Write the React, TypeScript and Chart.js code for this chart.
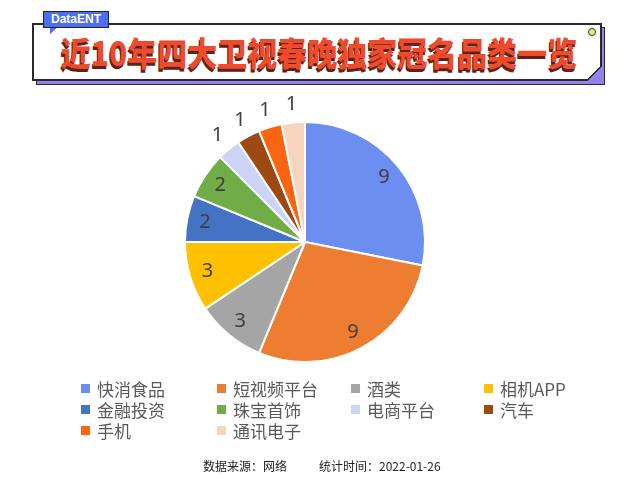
import React, { useEffect, useRef } from "react";
import { Chart, registerables } from "chart.js";

Chart.register(...registerables);

const titleText = "近10年四大卫视春晚独家冠名品类一览";
const categories = ["快消食品", "短视频平台", "酒类", "相机APP", "金融投资", "珠宝首饰", "电商平台", "汽车", "手机", "通讯电子"];
const values = [9, 9, 3, 3, 2, 2, 1, 1, 1, 1];
const colors = ["#6b8ef0", "#ed7d31", "#a5a5a5", "#ffc000", "#4472c4", "#70ad47", "#cbd4f4", "#9c4a12", "#fb6512", "#f6d4bd"];
const sourceText = "数据来源：网络";
const dateText = "统计时间：2022-01-26";

const legendCols = [81, 217, 351, 484];
const legendRows = [388, 409, 430];

const labelPlugin = {
  id: "sliceLabels",
  afterDatasetsDraw(chart: any) {
    const ctx = chart.ctx;
    const meta = chart.getDatasetMeta(0);
    ctx.save();
    ctx.font = "20px 'Noto Sans', 'DejaVu Sans', sans-serif";
    ctx.fillStyle = "#404040";
    ctx.textAlign = "center";
    ctx.textBaseline = "middle";
    meta.data.forEach((arc: any, i: number) => {
      const v = chart.data.datasets[0].data[i];
      const mid = (arc.startAngle + arc.endAngle) / 2;
      const r = arc.outerRadius * (v <= 1 ? 1.15 : 0.85);
      ctx.fillText(String(v), arc.x + Math.cos(mid) * r, arc.y + Math.sin(mid) * r);
    });
    ctx.restore();
  },
};

export default function App() {
  const ref = useRef<HTMLCanvasElement>(null);
  useEffect(() => {
    if (!ref.current) return;
    const chart = new Chart(ref.current, {
      type: "pie",
      data: {
        labels: categories,
        datasets: [{ data: values, backgroundColor: colors, borderColor: "#ffffff", borderWidth: 2 }],
      },
      options: {
        animation: false,
        responsive: false,
        layout: { padding: { left: 39, right: 39, top: 29, bottom: 29 } },
        plugins: { legend: { display: false }, tooltip: { enabled: false } },
      },
      plugins: [labelPlugin],
    });
    return () => chart.destroy();
  }, []);

  const cjk = "'Noto Sans CJK SC', 'Noto Sans', sans-serif";
  return (
    <div style={{ position: "fixed", left: 0, top: 0, width: 640, height: 485, background: "#fff", overflow: "hidden", fontFamily: cjk }}>
      {/* banner shadow */}
      <div style={{ position: "absolute", left: 36, top: 27, width: 569, height: 58, background: "#9282ec", border: "1.5px solid #2a2a2a", boxSizing: "border-box" }} />
      {/* banner */}
      <div style={{ position: "absolute", left: 32, top: 23, width: 570, height: 58, background: "#fff", border: "2px solid #2a2a2a", boxSizing: "border-box" }} />
      {/* folded corner */}
      <div style={{ position: "absolute", left: 586, top: 65, width: 16, height: 16, background: "#9282ec", clipPath: "polygon(100% 0, 100% 100%, 0 100%)" }} />
      <div style={{ position: "absolute", left: 586, top: 65, width: 16, height: 16, background: "linear-gradient(135deg, transparent 48%, #2a2a2a 48%, #2a2a2a 56%, transparent 56%)" }} />
      {/* small dot */}
      <div style={{ position: "absolute", left: 588, top: 28, width: 6, height: 6, borderRadius: 4, background: "#e4f06a", border: "1.5px solid #333" }} />
      {/* DataENT tag */}
      <div style={{ position: "absolute", left: 50, top: 25, width: 10, height: 9, background: "#4d6df5", clipPath: "polygon(0 0, 100% 0, 0 100%)" }} />
      <div style={{ position: "absolute", left: 43, top: 11, width: 66, height: 17, background: "#4d6df5", border: "1.5px solid #222", boxSizing: "border-box", color: "#fff", fontFamily: "'Liberation Sans', Arial, sans-serif", fontWeight: 700, fontSize: 12, lineHeight: "14px", textAlign: "center" }}>DataENT</div>
      {/* title */}
      <div style={{ position: "absolute", left: 32, top: 32, width: 574, textAlign: "center", fontSize: 30, fontWeight: 900, color: "#f04a2c", lineHeight: "40px", textShadow: "-1px 2px 0 #5a2418", transform: "scaleY(1.1)" }}>{titleText}</div>

      <canvas ref={ref} width={320} height={300} style={{ position: "absolute", left: 145, top: 92, width: 320, height: 300 }} />

      {categories.map((c, i) => {
        const col = i % 4;
        const row = Math.floor(i / 4);
        return (
          <div key={c} style={{ position: "absolute", left: legendCols[col], top: legendRows[row] - 11, height: 22, display: "flex", alignItems: "center", color: "#595959", fontSize: 17, whiteSpace: "nowrap" }}>
            <span style={{ display: "inline-block", width: 9, height: 9, background: colors[i], marginRight: 7 }} />
            {c}
          </div>
        );
      })}
      <div style={{ position: "absolute", left: 203, top: 458, fontSize: 12, color: "#222", lineHeight: "16px", whiteSpace: "nowrap" }}>{sourceText}</div>
      <div style={{ position: "absolute", left: 319, top: 458, fontSize: 12, color: "#222", lineHeight: "16px", whiteSpace: "nowrap" }}>{dateText}</div>
    </div>
  );
}
